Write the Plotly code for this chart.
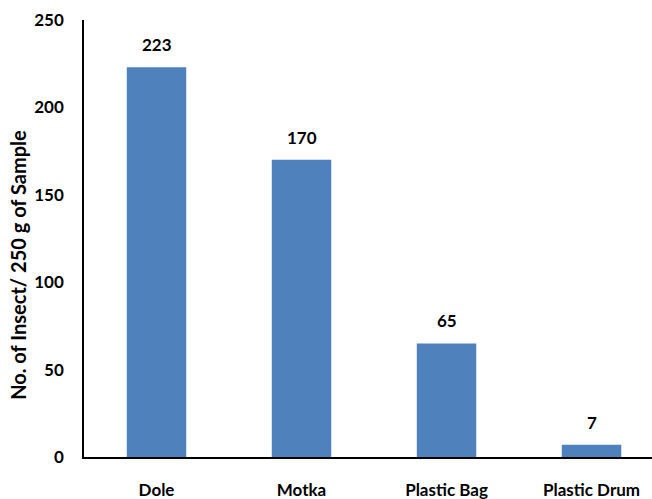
import plotly.graph_objects as go

# Insect counts per storage container
containers = ["Dole", "Motka", "Plastic Bag", "Plastic Drum"]
insect_counts = [223, 170, 65, 7]
y_ticks = [0, 50, 100, 150, 200, 250]
y_title = "No. of Insect/ 250 g of Sample"

font_family = "Lato, 'Open Sans', sans-serif"

fig = go.Figure(
    go.Bar(
        x=containers,
        y=insect_counts,
        width=0.41,
        marker=dict(color="#4F81BD", line=dict(width=0)),
        cliponaxis=False,
    )
)

# Value labels sitting a little above each bar
for name, val in zip(containers, insect_counts):
    fig.add_annotation(
        x=name,
        y=val,
        text=str(val),
        showarrow=False,
        yanchor="bottom",
        yshift=10,
        font=dict(family=font_family, size=17, color="#000000", weight="bold"),
    )

# Vertical axis title, placed slightly below the plot's mid-height
fig.add_annotation(
    xref="paper",
    yref="paper",
    x=-0.116,
    y=0.44,
    text=y_title,
    textangle=-90,
    showarrow=False,
    xanchor="center",
    yanchor="middle",
    font=dict(family=font_family, size=20, color="#000000", weight="bold"),
)

fig.update_layout(
    width=652,
    height=499,
    margin=dict(l=84, r=0, t=20, b=42),
    paper_bgcolor="white",
    plot_bgcolor="white",
    showlegend=False,
    font=dict(family=font_family, color="#000000"),
)

fig.update_xaxes(
    range=[-0.5, 3.417],
    showline=True,
    linecolor="#000000",
    linewidth=1.5,
    showgrid=False,
    ticks="",
    ticklabelstandoff=17,
    tickfont=dict(family=font_family, size=17, color="#000000", weight="bold"),
)

fig.update_yaxes(
    range=[0, 250],
    tickvals=y_ticks,
    showline=True,
    linecolor="#000000",
    linewidth=1.5,
    showgrid=False,
    zeroline=False,
    ticks="",
    ticklabelstandoff=15,
    tickfont=dict(family=font_family, size=17, color="#000000", weight="bold"),
)

fig.write_html("out.html")
